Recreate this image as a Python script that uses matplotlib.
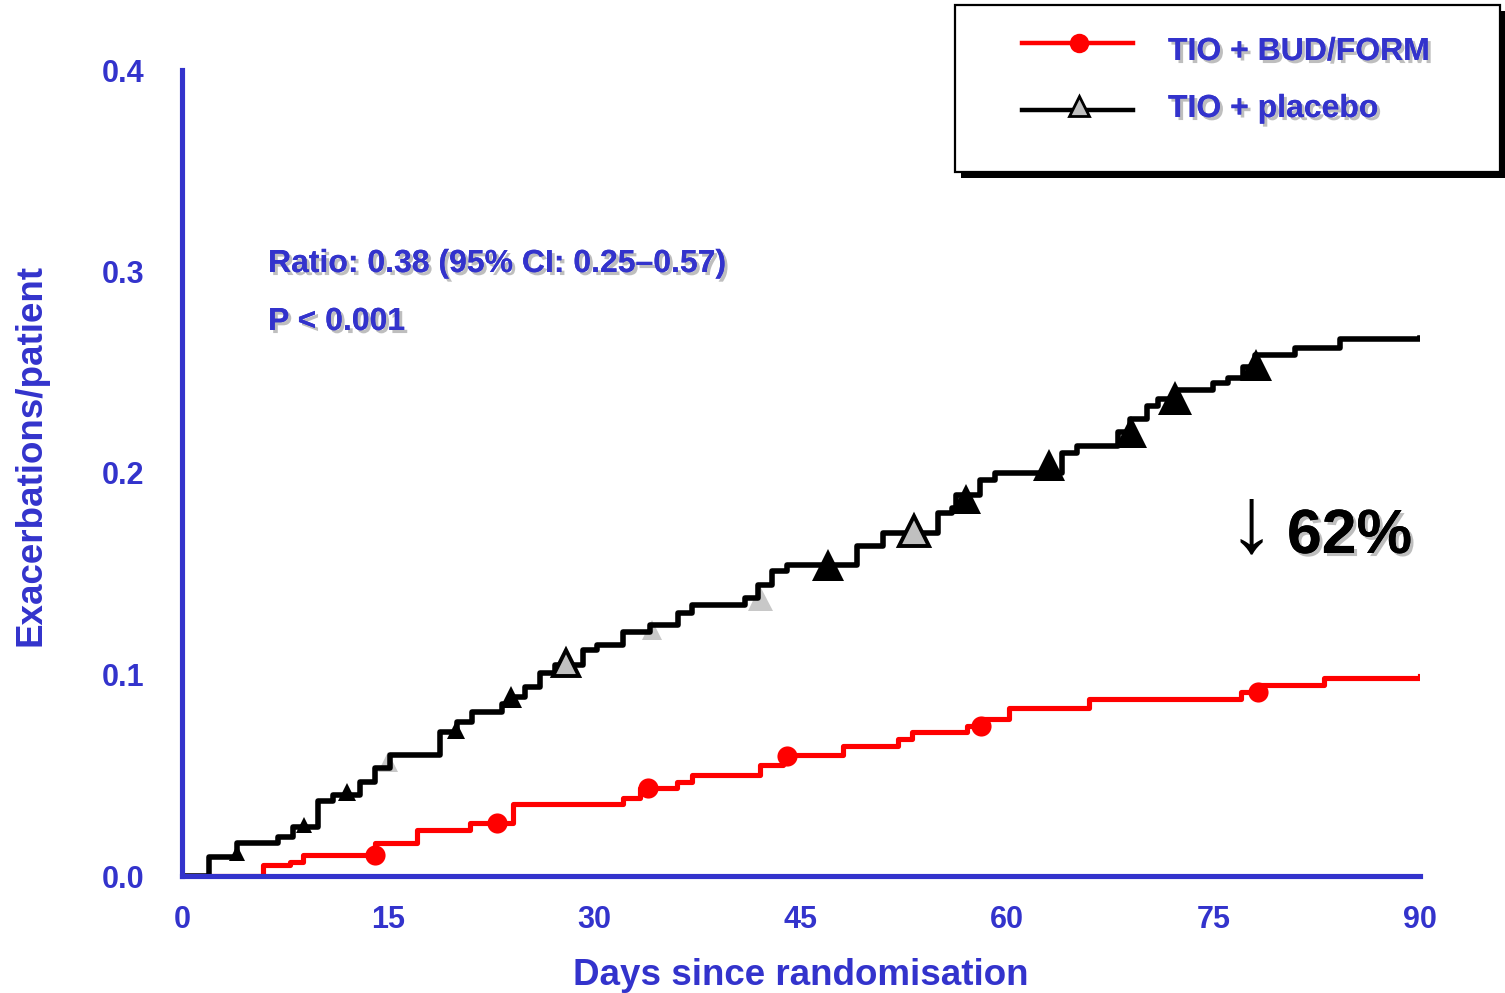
import matplotlib
matplotlib.use("Agg")
import matplotlib.pyplot as plt
import matplotlib.patheffects as pe
from matplotlib.patches import Rectangle
from matplotlib.lines import Line2D

# cumulative exacerbations per patient (step curves)
placebo_days = [0, 1.96, 4.0, 6.98, 8.07, 9.89, 10.98, 12.94, 14.03, 15.12,
                18.76, 19.99, 21.08, 23.26, 23.84, 24.93, 26.03, 27.12, 29.15, 30.17,
                32.06, 34.02, 36.06, 37.07, 40.93, 41.87, 42.89, 43.98, 49.07, 50.96,
                54.96, 55.98, 56.27, 58.01, 59.10, 63.97, 65.06, 68.04, 68.92, 70.15,
                70.95, 72.19, 74.95, 76.04, 77.13, 78.00, 80.91, 84.18, 90.0]
placebo_vals = [0.0, 0.0094, 0.0164, 0.0194, 0.0243, 0.0372, 0.0402, 0.0467, 0.0536, 0.0600,
                0.0715, 0.0764, 0.0814, 0.0854, 0.0888, 0.0938, 0.1007, 0.1047, 0.1122, 0.1146,
                0.1211, 0.1246, 0.1305, 0.1345, 0.1380, 0.1444, 0.1514, 0.1543, 0.1638, 0.1702,
                0.1801, 0.1826, 0.1891, 0.1965, 0.2000, 0.2099, 0.2134, 0.2203, 0.2268, 0.2333,
                0.2367, 0.2412, 0.2447, 0.2471, 0.2526, 0.2586, 0.2620, 0.2665, 0.2670]

budform_days = [0, 5.89, 7.85, 8.80, 14.03, 17.08, 20.94, 24.06, 32.06, 33.29,
                35.98, 37.07, 42.02, 43.69, 48.05, 52.05, 53.07, 57.07, 58.23, 60.12,
                65.94, 76.98, 78.20, 83.02, 90.0]
budform_vals = [0.0, 0.0055, 0.0069, 0.0104, 0.0164, 0.0228, 0.0263, 0.0357, 0.0387, 0.0437,
                0.0467, 0.0501, 0.0551, 0.0600, 0.0645, 0.0680, 0.0715, 0.0744, 0.0779, 0.0834,
                0.0878, 0.0913, 0.0948, 0.0983, 0.0993]

# symbols along the curves
budform_mark_days = [14.0, 22.9, 33.9, 44.0, 58.1, 78.2]
budform_mark_vals = [0.0104, 0.0263, 0.0437, 0.0595, 0.0744, 0.0913]

placebo_mark_days = [4.0, 8.9, 12.0, 14.95, 19.95, 23.95, 27.95, 34.17,
                     42.0, 46.96, 53.2, 57.0, 63.0, 69.0, 72.2, 78.1]
placebo_mark_vals = [0.0114, 0.0253, 0.0417, 0.0566, 0.0725, 0.0888, 0.1057, 0.1220,
                     0.1380, 0.1543, 0.1712, 0.1871, 0.2040, 0.2203, 0.2372, 0.2536]

x_ticks = [0, 15, 30, 45, 60, 75, 90]
y_ticks = [0.0, 0.1, 0.2, 0.3, 0.4]
series_labels = ["TIO + BUD/FORM", "TIO + placebo"]

BLUE = "#3333cc"
W, H = 1505, 993

plt.rcParams["font.family"] = ["Liberation Sans", "DejaVu Sans"]
plt.rcParams["font.weight"] = "bold"

shadow = [pe.withSimplePatchShadow(offset=(2.2, -2.2), shadow_rgbFace="#8a8a8a", alpha=0.55),
          pe.Normal()]


def fx(px):
    return px / W


def fy(py):
    return 1 - py / H


fig = plt.figure(figsize=(W / 100, H / 100), dpi=100)
ax = fig.add_axes([fx(182), fy(876), (1420 - 182) / W, (876 - 70) / H])

ax.step(placebo_days, placebo_vals, where="post", color="black", lw=4.0, zorder=2.2)
ax.step(budform_days, budform_vals, where="post", color="#ff0000", lw=3.7, zorder=2.1)

ax.plot(budform_mark_days, budform_mark_vals, "o", color="#ff0000", ms=14.5, mew=0, zorder=3)

# marker styles: filled black, light grey (behind the line), open with grey fill
kinds = ["k", "k", "k", "g", "k", "k", "o", "g", "g", "k", "o", "k", "k", "k", "k", "k"]
sizes = [12, 12, 12.5, 14, 13.5, 16, 19, 15, 18, 23, 21, 22, 23, 23, 24, 23]
for d, v, k, s in zip(placebo_mark_days, placebo_mark_vals, kinds, sizes):
    if k == "k":
        ax.plot(d, v, "^", color="black", ms=s, mew=0, zorder=3)
    elif k == "g":
        ax.plot(d, v, "^", color="#c8c8c8", ms=s, mew=0, zorder=2)
    else:
        ax.plot(d, v, "^", mfc="#c0c0c0", mec="black", ms=s, mew=2.8, zorder=3)

ax.set_xlim(0, 90)
ax.set_ylim(0, 0.4)
ax.set_xticks(x_ticks)
ax.set_xticklabels([str(t) for t in x_ticks])
ax.set_yticks(y_ticks)
ax.set_yticklabels([f"{t:.1f}" for t in y_ticks])

for side in ["top", "right"]:
    ax.spines[side].set_visible(False)
for side in ["left", "bottom"]:
    ax.spines[side].set_color(BLUE)
    ax.spines[side].set_linewidth(3.7)

ax.tick_params(axis="y", direction="out", length=2, width=2.5, color="white",
               labelsize=22, labelcolor=BLUE, pad=25)
ax.tick_params(axis="x", length=0, labelsize=22, labelcolor=BLUE, pad=21)
for lab in ax.get_xticklabels() + ax.get_yticklabels():
    lab.set_fontweight("bold")

ax.set_xlabel("Days since randomisation", fontsize=26.5, color=BLUE, fontweight="bold")
ax.xaxis.set_label_coords(0.5, -0.102)
ax.set_ylabel("Exacerbations/patient", fontsize=26.5, color=BLUE, fontweight="bold")
ax.yaxis.set_label_coords(-0.108, 0.522)

# statistics
fig.text(fx(268), fy(272), "Ratio: 0.38 (95% CI: 0.25\u20130.57)", fontsize=23,
         color=BLUE, fontweight="bold", va="baseline", path_effects=shadow)
fig.text(fx(268), fy(330), "P < 0.001", fontsize=23,
         color=BLUE, fontweight="bold", va="baseline", path_effects=shadow)

fig.text(fx(1251), fy(527), "\u2193", fontsize=68, color="black", fontweight="normal",
         ha="center", va="center")
fig.text(fx(1287), fy(553), "62%", fontsize=45, color="black", fontweight="bold",
         va="baseline", path_effects=shadow)

# legend box with drop shadow
fig.add_artist(Rectangle((fx(961), fy(178)), 545 / W, 167 / H, transform=fig.transFigure,
                         fc="black", ec="none", zorder=5))
fig.add_artist(Rectangle((fx(955), fy(172)), 545 / W, 167 / H, transform=fig.transFigure,
                         fc="white", ec="black", lw=1.6, zorder=6))
fig.add_artist(Line2D([fx(1022), fx(1079), fx(1133)], [fy(43)] * 3, transform=fig.transFigure,
                      color="#ff0000", lw=3.2, marker="o", ms=14, mew=0, markevery=[1], zorder=7))
fig.add_artist(Line2D([fx(1022), fx(1133)], [fy(110)] * 2, transform=fig.transFigure,
                      color="black", lw=3.2, zorder=7))
fig.add_artist(Line2D([fx(1079)], [fy(106)], transform=fig.transFigure, marker="^", ms=15,
                      mfc="#c0c0c0", mec="black", mew=2, zorder=8))
fig.text(fx(1168), fy(60), series_labels[0], fontsize=23, color=BLUE, fontweight="bold",
         va="baseline", path_effects=shadow, zorder=9)
fig.text(fx(1168), fy(117), series_labels[1], fontsize=23, color=BLUE, fontweight="bold",
         va="baseline", path_effects=shadow, zorder=9)

fig.savefig("out.png", dpi=100)
